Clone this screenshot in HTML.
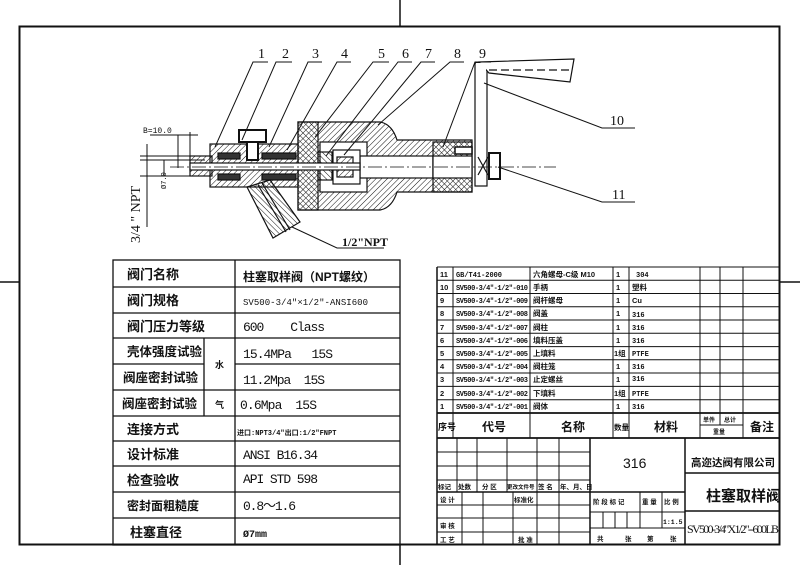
<!DOCTYPE html>
<html><head><meta charset="utf-8"><style>
html,body{margin:0;padding:0;background:#fff;}
svg{display:block;}
.t{font-family:"Liberation Sans","Noto Sans CJK SC",sans-serif;font-weight:bold;fill:#111;}
.m{font-family:"Liberation Mono","Noto Sans CJK SC",monospace;fill:#111;}
.s{font-family:"Liberation Serif","Noto Serif CJK SC",serif;fill:#111;}
</style></head><body>
<svg width="800" height="565" viewBox="0 0 800 565" xmlns="http://www.w3.org/2000/svg">
<defs>
<pattern id="h" width="4" height="4" patternUnits="userSpaceOnUse" patternTransform="rotate(45)"><line x1="0" y1="0" x2="0" y2="4" stroke="#111" stroke-width="1"/></pattern>
<pattern id="h2" width="4" height="4" patternUnits="userSpaceOnUse" patternTransform="rotate(-45)"><line x1="0" y1="0" x2="0" y2="4" stroke="#111" stroke-width="1"/></pattern>
</defs>
<rect width="800" height="565" fill="#fff"/>
<rect x="19.5" y="26.5" width="760" height="518" fill="none" stroke="#111" stroke-width="2"/>
<line x1="400" y1="0" x2="400" y2="26" stroke="#111" stroke-width="1.5"/>
<line x1="400" y1="545" x2="400" y2="565" stroke="#111" stroke-width="1.5"/>
<line x1="0" y1="282" x2="19" y2="282" stroke="#111" stroke-width="1.5"/>
<line x1="780" y1="282" x2="800" y2="282" stroke="#111" stroke-width="1.5"/>

<g stroke="#111" stroke-width="1.2">
<path d="M298,122 H380 Q392,124 397,140 H472 V192 H397 Q392,208 380,210 H298 Z" fill="url(#h)"/>
<rect x="298" y="122" width="20" height="88" fill="url(#h2)"/>
<rect x="320" y="142" width="47" height="50" fill="#fff"/>
<rect x="360" y="156" width="73" height="22" fill="#fff"/>
<rect x="433" y="142" width="39" height="50" fill="url(#h2)"/>
<rect x="433" y="156" width="39" height="22" fill="#fff"/>
<rect x="455" y="147" width="17" height="7" fill="#fff" stroke-width="1.5"/>
<rect x="318" y="152" width="14" height="28" fill="url(#h2)"/>
<rect x="333" y="150" width="27" height="34" fill="#fff"/>
<rect x="337" y="157" width="16" height="20" fill="url(#h)"/>
<rect x="210" y="144" width="88" height="43" fill="url(#h)"/>
<rect x="190" y="156" width="22" height="20" fill="url(#h)"/>
<rect x="190" y="163" width="170" height="7" fill="#fff"/>
<rect x="218" y="153" width="22" height="6" fill="#333"/>
<rect x="218" y="174" width="22" height="6" fill="#333"/>
<rect x="262" y="153" width="34" height="6" fill="#333"/>
<rect x="262" y="174" width="34" height="6" fill="#333"/>
<rect x="239" y="130" width="27" height="12" fill="#fff" stroke-width="2"/>
<rect x="247" y="142" width="11" height="18" fill="#fff" stroke-width="2"/>
<polygon points="247,187 270,180 300,222 273,238" fill="url(#h2)"/>
<line x1="258" y1="185" x2="286" y2="232"/>
<line x1="262" y1="183" x2="290" y2="230"/>
<rect x="475" y="63" width="12" height="123" fill="#fff"/>
<polygon points="479,62 574,59 570,82 489,73" fill="#fff"/>
<rect x="476" y="63" width="10" height="12" fill="#fff" stroke="none"/>
<line x1="489" y1="70" x2="572" y2="70" stroke-dasharray="8,4"/>
<rect x="489" y="153" width="11" height="26" fill="#fff" stroke-width="2"/>
<line x1="478" y1="157" x2="488" y2="175"/><line x1="488" y1="157" x2="478" y2="175"/>
<line x1="170" y1="167" x2="556" y2="167" stroke-width="0.8" stroke-dasharray="14,3,2,3"/>
</g>

<g stroke="#111" stroke-width="1" fill="none">
<polyline points="215,147 253,62 268,62"/>
<polyline points="242,140 276,62 292,62"/>
<polyline points="269,147 308,62 322,62"/>
<polyline points="287,150 337,62 351,62"/>
<polyline points="315,137 373,62 389,62"/>
<polyline points="326,156 398,62 412,62"/>
<polyline points="344,155 421,62 435,62"/>
<polyline points="378,125 450,62 464,62"/>
<polyline points="443,147 475,62 491,62"/>
<polyline points="484,83 602,128 635,128"/>
<polyline points="498,167 602,202 635,202"/>
<polyline points="292,227 337,248 384,248"/>
<line x1="147" y1="144" x2="147" y2="227"/>
<line x1="140" y1="156" x2="190" y2="156"/>
<line x1="140" y1="176" x2="190" y2="176"/>
<line x1="164" y1="160" x2="164" y2="176"/>
<line x1="150" y1="135" x2="198" y2="135"/>
<line x1="178" y1="135" x2="178" y2="168"/>
<line x1="190" y1="132" x2="190" y2="156"/>
<line x1="140" y1="160" x2="205" y2="160"/>
</g>
<g class="s" font-size="14">
<text x="258" y="58">1</text><text x="282" y="58">2</text><text x="312" y="58">3</text><text x="341" y="58">4</text><text x="378" y="58">5</text><text x="402" y="58">6</text><text x="425" y="58">7</text><text x="454" y="58">8</text><text x="479" y="58">9</text>
<text x="610" y="125">10</text><text x="612" y="199">11</text>
<text x="342" y="246" font-size="12" font-weight="bold">1/2"NPT</text>
<text x="143" y="133" font-size="8" class="m">B=10.0</text>
<text transform="translate(140,243) rotate(-90)" font-size="14">3/4 " NPT</text>
<text transform="translate(166,189) rotate(-90)" font-size="7" class="m">Ø7.0</text>
</g>

<g stroke="#111" stroke-width="1.3" fill="none">
<rect x="113" y="260" width="287" height="285"/>
<line x1="235" y1="260" x2="235" y2="545"/>
<line x1="204" y1="338" x2="204" y2="416"/>
<line x1="113" y1="287" x2="400" y2="287"/>
<line x1="113" y1="313" x2="400" y2="313"/>
<line x1="113" y1="338" x2="400" y2="338"/>
<line x1="113" y1="364" x2="204" y2="364"/><line x1="235" y1="364" x2="400" y2="364"/>
<line x1="113" y1="390" x2="400" y2="390"/>
<line x1="113" y1="416" x2="400" y2="416"/>
<line x1="113" y1="441" x2="400" y2="441"/>
<line x1="113" y1="466" x2="400" y2="466"/>
<line x1="113" y1="492" x2="400" y2="492"/>
<line x1="113" y1="518" x2="400" y2="518"/>
</g>
<g class="t" font-size="13">
<text x="127" y="279">阀门名称</text>
<text x="127" y="305">阀门规格</text>
<text x="127" y="331">阀门压力等级</text>
<text x="127" y="356" font-size="12.5">壳体强度试验</text>
<text x="123" y="382" font-size="12.5">阀座密封试验</text>
<text x="122" y="408" font-size="12.5">阀座密封试验</text>
<text x="127" y="434">连接方式</text>
<text x="127" y="459">设计标准</text>
<text x="127" y="485">检查验收</text>
<text x="127" y="510" font-size="12">密封面粗糙度</text>
<text x="130" y="537">柱塞直径</text>
<text x="215" y="368" font-size="9">水</text>
<text x="215" y="408" font-size="9">气</text>
<text x="243" y="281" font-size="12">柱塞取样阀（NPT螺纹）</text>
</g>
<g class="m" font-size="13">
<text x="243" y="305" font-size="9" textLength="125">SV500-3/4"×1/2"-ANSI600</text>
<text x="243" y="331" textLength="82" xml:space="preserve">600    Class</text>
<text x="243" y="358" textLength="90" xml:space="preserve">15.4MPa   15S</text>
<text x="243" y="384" textLength="82" xml:space="preserve">11.2Mpa  15S</text>
<text x="240" y="409" textLength="77" xml:space="preserve">0.6Mpa  15S</text>
<text x="237" y="435" font-size="7" font-weight="bold">进口:NPT3/4"出口:1/2"FNPT</text>
<text x="243" y="459" textLength="75">ANSI B16.34</text>
<text x="243" y="483" textLength="75">API STD 598</text>
<text x="243" y="510" textLength="53">0.8～1.6</text>
<text x="243" y="537" font-size="10" font-weight="bold" textLength="24">Ø7mm</text>
</g>

<g stroke="#111" stroke-width="1" fill="none">
<line x1="437" y1="267" x2="780" y2="267"/>
<line x1="437" y1="267" x2="437" y2="545" stroke-width="1.5"/>
<line x1="453" y1="267" x2="453" y2="438"/>
<line x1="530" y1="267" x2="530" y2="438"/>
<line x1="613" y1="267" x2="613" y2="438"/>
<line x1="629" y1="267" x2="629" y2="438"/>
<line x1="700" y1="267" x2="700" y2="438"/>
<line x1="720" y1="267" x2="720" y2="413"/>
<line x1="743" y1="267" x2="743" y2="438"/>
<line x1="437" y1="280.3" x2="780" y2="280.3"/>
<line x1="437" y1="293.5" x2="780" y2="293.5"/>
<line x1="437" y1="306.8" x2="780" y2="306.8"/>
<line x1="437" y1="320" x2="780" y2="320"/>
<line x1="437" y1="333.3" x2="780" y2="333.3"/>
<line x1="437" y1="346.6" x2="780" y2="346.6"/>
<line x1="437" y1="359.8" x2="780" y2="359.8"/>
<line x1="437" y1="373" x2="780" y2="373"/>
<line x1="437" y1="386.4" x2="780" y2="386.4"/>
<line x1="437" y1="399.7" x2="780" y2="399.7"/>
<line x1="437" y1="413" x2="780" y2="413" stroke-width="1.8"/>
<line x1="700" y1="425" x2="743" y2="425"/>
<line x1="720" y1="413" x2="720" y2="425"/>
<line x1="437" y1="438" x2="780" y2="438" stroke-width="1.8"/>
<line x1="590" y1="438" x2="590" y2="545" stroke-width="1.5"/>
<line x1="685" y1="438" x2="685" y2="545" stroke-width="1.5"/>
<line x1="437" y1="452" x2="590" y2="452"/>
<line x1="437" y1="466" x2="590" y2="466"/>
<line x1="437" y1="480" x2="590" y2="480"/>
<line x1="437" y1="492" x2="685" y2="492" stroke-width="1.5"/>
<line x1="437" y1="505" x2="590" y2="505"/>
<line x1="437" y1="518" x2="590" y2="518"/>
<line x1="437" y1="532" x2="590" y2="532"/>
<line x1="457" y1="438" x2="457" y2="492"/>
<line x1="477" y1="438" x2="477" y2="492"/>
<line x1="507" y1="438" x2="507" y2="492"/>
<line x1="537" y1="438" x2="537" y2="545"/>
<line x1="559" y1="438" x2="559" y2="545"/>
<line x1="462" y1="492" x2="462" y2="545"/>
<line x1="483" y1="492" x2="483" y2="545"/>
<line x1="513" y1="492" x2="513" y2="545"/>
<line x1="590" y1="512" x2="685" y2="512"/>
<line x1="590" y1="528" x2="685" y2="528"/>
<line x1="640" y1="492" x2="640" y2="528"/>
<line x1="662" y1="492" x2="662" y2="528"/>
<line x1="603" y1="512" x2="603" y2="528"/>
<line x1="615" y1="512" x2="615" y2="528"/>
<line x1="627" y1="512" x2="627" y2="528"/>
<line x1="685" y1="473" x2="780" y2="473" stroke-width="1.5"/>
<line x1="685" y1="511" x2="780" y2="511" stroke-width="1.5"/>
</g>
<g class="t" font-size="7.5">
<g class="m" font-size="7">
<text x="456" y="277" textLength="46">GB/T41-2000</text>
<text x="456" y="290" textLength="72">SV500-3/4"-1/2"-010</text>
<text x="456" y="303" textLength="72">SV500-3/4"-1/2"-009</text>
<text x="456" y="316" textLength="72">SV500-3/4"-1/2"-008</text>
<text x="456" y="330" textLength="72">SV500-3/4"-1/2"-007</text>
<text x="456" y="343" textLength="72">SV500-3/4"-1/2"-006</text>
<text x="456" y="356" textLength="72">SV500-3/4"-1/2"-005</text>
<text x="456" y="369" textLength="72">SV500-3/4"-1/2"-004</text>
<text x="456" y="382" textLength="72">SV500-3/4"-1/2"-003</text>
<text x="456" y="396" textLength="72">SV500-3/4"-1/2"-002</text>
<text x="456" y="409" textLength="72">SV500-3/4"-1/2"-001</text>
</g>
<text x="440" y="277">11</text><text x="533" y="277">六角螺母-C级 M10</text><text x="616" y="277">1</text><text x="636" y="277" class="m" font-size="7">304</text>
<text x="440" y="290">10</text><text x="533" y="290">手柄</text><text x="616" y="290">1</text><text x="632" y="290">塑料</text>
<text x="440" y="303">9</text><text x="533" y="303">阀杆螺母</text><text x="616" y="303">1</text><text x="632" y="303">Cu</text>
<text x="440" y="316">8</text><text x="533" y="316">阀盖</text><text x="616" y="316">1</text><text x="632" y="317" class="m" font-size="7">316</text>
<text x="440" y="330">7</text><text x="533" y="330">阀柱</text><text x="616" y="330">1</text><text x="632" y="330" class="m" font-size="7">316</text>
<text x="440" y="343">6</text><text x="533" y="343">填料压盖</text><text x="616" y="343">1</text><text x="632" y="343" class="m" font-size="7">316</text>
<text x="440" y="356">5</text><text x="533" y="356">上填料</text><text x="614" y="356">1组</text><text x="632" y="356" class="m" font-size="7">PTFE</text>
<text x="440" y="369">4</text><text x="533" y="369">阀柱笼</text><text x="616" y="369">1</text><text x="632" y="369" class="m" font-size="7">316</text>
<text x="440" y="382">3</text><text x="533" y="382">止定螺丝</text><text x="616" y="382">1</text><text x="632" y="381" class="m" font-size="7">316</text>
<text x="440" y="396">2</text><text x="533" y="396">下填料</text><text x="614" y="396">1组</text><text x="632" y="396" class="m" font-size="7">PTFE</text>
<text x="440" y="409">1</text><text x="533" y="409">阀体</text><text x="616" y="409">1</text><text x="632" y="409" class="m" font-size="7">316</text>
<text x="438" y="430" font-size="9">序号</text>
<text x="482" y="431" font-size="12">代号</text>
<text x="561" y="431" font-size="12">名称</text>
<text x="614" y="430" font-size="7.5">数量</text>
<text x="654" y="431" font-size="12">材料</text>
<text x="703" y="422" font-size="6">单件</text><text x="724" y="422" font-size="6">总计</text>
<text x="713" y="434" font-size="6">重量</text>
<text x="750" y="431" font-size="12">备注</text>
<g font-size="6.5">
<text x="438" y="489">标记</text><text x="458" y="489">处数</text><text x="482" y="489">分 区</text><text x="507" y="489" font-size="5.5">更改文件号</text><text x="538" y="489">签 名</text><text x="560" y="489">年、月、日</text>
<text x="440" y="502">设 计</text><text x="514" y="502">标准化</text>
<text x="440" y="528">审 核</text><text x="440" y="542">工 艺</text><text x="518" y="542">批 准</text>
<text x="593" y="504">阶 段 标 记</text><text x="642" y="504">重 量</text><text x="664" y="504">比 例</text>
<text x="663" y="524" class="m">1:1.5</text>
<text x="597" y="541">共</text><text x="625" y="541">张</text><text x="647" y="541">第</text><text x="670" y="541">张</text>
</g>
</g>
<text x="623" y="468" font-family="Liberation Sans, sans-serif" font-size="14" fill="#111">316</text>
<text x="691" y="466" class="t" font-size="10.5" font-weight="normal">高迩达阀有限公司</text>
<text x="706" y="501" class="t" font-size="15">柱塞取样阀</text>
<text x="687" y="533" class="s" font-size="12" textLength="92">SV500-3/4"X1/2"--600LB</text>
</svg>
</body></html>
